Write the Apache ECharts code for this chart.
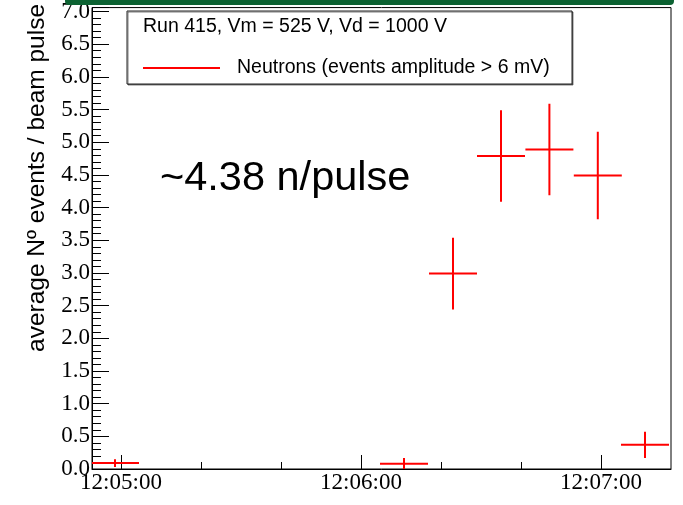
<!DOCTYPE html>
<html><head><meta charset="utf-8">
<script src="https://cdn.jsdelivr.net/npm/echarts@6/dist/echarts.min.js"></script>
<style>html,body{margin:0;padding:0;background:#fff}#c{width:683px;height:505px}</style>
</head><body><div id="c"></div>
<script>
// time of each bin centre, in seconds after 12:05:00
const binCenters = [-1.5, 70.75, 83.0, 95.0, 107.1, 119.2, 131.0];
const binHalfWidth = [6, 6, 6, 6, 6, 6, 6];
const neutrons = [0.09, 0.08, 2.99, 4.79, 4.89, 4.49, 0.37];
const neutronErr = [0.06, 0.09, 0.55, 0.70, 0.70, 0.67, 0.20];
const xMajorTicks = [0, 60, 120];
const xSecondaryTicks = [0, 20, 40, 60, 80, 100, 120];
const seriesName = 'Neutrons (events amplitude > 6 mV)';
const headerText = 'Run 415, Vm = 525 V, Vd = 1000 V';
const annotationText = '~4.38 n/pulse';
const yTitle = 'average N\u00BA events / beam pulse';
const timeOrigin = 12 * 3600 + 5 * 60;

function fmtTime(v) {
  const t = Math.round(timeOrigin + v);
  const h = Math.floor(t / 3600), m = Math.floor((t % 3600) / 60), s = t % 60;
  const p = n => String(n).padStart(2, '0');
  return p(h) + ':' + p(m) + ':' + p(s);
}

const data = binCenters.map((c, i) => [c, neutrons[i], binHalfWidth[i], neutronErr[i]]);

const chart = echarts.init(document.getElementById('c'), null, {renderer: 'canvas'});
const serif = 'Liberation Serif';
const sans = 'Liberation Sans';
chart.setOption({
  animation: false,
  backgroundColor: '#fff',
  grid: {left: 92, right: 12, top: 0, bottom: 36, show: true, borderColor: '#000', borderWidth: 1, backgroundColor: 'transparent'},
  xAxis: [{
    type: 'value', min: -7.25, max: 137.5, position: 'bottom',
    axisLine: {show: true, onZero: false, lineStyle: {color: '#000', width: 1}},
    axisTick: {show: true, inside: true, length: 7, customValues: xSecondaryTicks, lineStyle: {color: '#000'}},
    axisLabel: {show: false},
    splitLine: {show: false}
  }, {
    type: 'value', min: -7.25, max: 137.5, position: 'bottom',
    axisLine: {show: false, onZero: false},
    axisTick: {show: true, inside: true, length: 14, customValues: xMajorTicks, lineStyle: {color: '#000'}},
    axisLabel: {show: true, customValues: xMajorTicks, formatter: fmtTime, fontFamily: serif, fontSize: 23, color: '#000', margin: 2},
    splitLine: {show: false}
  }],
  yAxis: {
    type: 'value', min: 0, max: 7.06, interval: 0.5, position: 'left',
    axisLine: {show: true, onZero: false, lineStyle: {color: '#000', width: 1}},
    axisTick: {show: true, inside: true, length: 17, lineStyle: {color: '#000'}},
    minorTick: {show: true, splitNumber: 5, length: 9, lineStyle: {color: '#000'}},
    axisLabel: {formatter: v => v.toFixed(1), fontFamily: serif, fontSize: 23, color: '#000', margin: 2, showMaxLabel: false},
    splitLine: {show: false}, minorSplitLine: {show: false}
  },
  legend: {
    left: 143, top: 58, padding: 0,
    data: [{name: seriesName, icon: 'rect'}],
    itemWidth: 77, itemHeight: 2,
    textStyle: {fontFamily: sans, fontSize: 19.5, color: '#000', padding: [0, 0, 0, 12]},
    selectedMode: false
  },
  series: [{
    type: 'custom', name: seriesName, xAxisIndex: 0, yAxisIndex: 0,
    itemStyle: {color: '#ff0000'},
    data: data, clip: true,
    renderItem: function (params, api) {
      const x = api.value(0), y = api.value(1), hw = api.value(2), e = api.value(3);
      const l = api.coord([x - hw, y]), r = api.coord([x + hw, y]);
      const t = api.coord([x, y + e]), b = api.coord([x, y - e]);
      const st = {stroke: '#ff0000', lineWidth: 2, fill: null};
      return {type: 'group', children: [
        {type: 'line', shape: {x1: l[0], y1: l[1], x2: r[0], y2: r[1]}, style: st},
        {type: 'line', shape: {x1: t[0], y1: t[1], x2: b[0], y2: b[1]}, style: st}
      ]};
    }
  }],
  graphic: [
    {type: 'rect', z: 0, shape: {x: 127, y: 11, width: 445, height: 73}, style: {fill: '#fff', stroke: '#222', lineWidth: 1, shadowColor: 'rgba(0,0,0,0.5)', shadowOffsetX: 1, shadowOffsetY: 1}},
    {type: 'text', z: 1, x: 143, y: 27, style: {text: headerText, fontFamily: sans, fontSize: 19.5, fill: '#000', verticalAlign: 'middle', align: 'left'}},
    {type: 'text', z: 1, x: 160, y: 179, style: {text: annotationText, fontFamily: sans, fontSize: 41.5, fill: '#000', verticalAlign: 'middle', align: 'left'}},
    {type: 'text', z: 1, x: 37, y: 352, rotation: Math.PI / 2, style: {text: yTitle, fontFamily: sans, fontSize: 24.5, fill: '#000', verticalAlign: 'middle', align: 'left'}},
    {type: 'rect', z: 100, shape: {x: 65, y: -6, width: 609, height: 11, r: 4}, style: {fill: '#0c6232'}}
  ]
});
</script></body></html>
